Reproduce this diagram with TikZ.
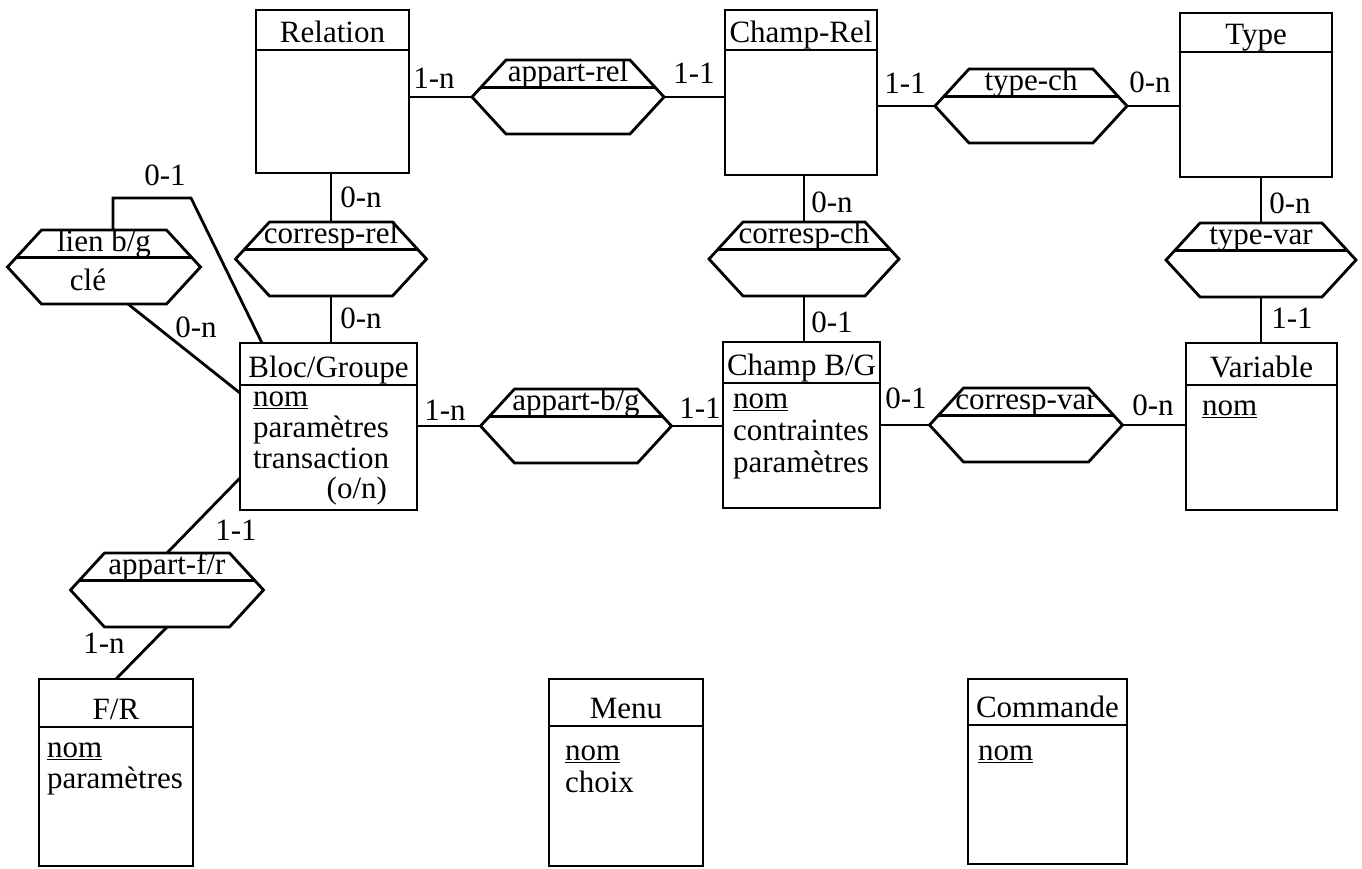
\documentclass[tikz,border=0pt]{standalone}
\usepackage{fontspec}
\setmainfont{Liberation Serif}
\usetikzlibrary{calc}
\tikzset{
  ent/.style={draw, line width=2.8pt, rectangle, inner sep=0pt, outer sep=0pt},
  hdrline/.style={line width=2.2pt},
  hexbox/.style={rectangle, inner sep=0pt, outer sep=0pt, minimum height=74pt},
  hexline/.style={line width=2.8pt, line join=miter},
  divline/.style={line width=2.4pt},
  link/.style={line width=2.8pt},
  txt/.style={inner sep=0pt, outer sep=0pt, font=\fontsize{31}{31}\selectfont},
  card/.style={txt, anchor=base},
  bodyl/.style={txt, anchor=base west},
}
\newcommand\entity[7]{%
  \node[ent, anchor=north west, minimum width={(#4-#2)*1pt}, minimum height={(#5-#3)*1pt}] (#1) at (#2,#3) {};
  \draw[hdrline] (#2,#6) -- (#4,#6);
  \node[txt, anchor=base] at ({(#2+#4)/2},{#6-8}) {#7};
}
\newcommand\hexa[5]{%
  \node[hexbox, minimum width={#4*1pt}] (#1) at (#2,#3) {};
  \draw[hexline] (#1.west) -- ([xshift=34pt]#1.north west) -- ([xshift=-34pt]#1.north east)
     -- (#1.east) -- ([xshift=-34pt]#1.south east) -- ([xshift=34pt]#1.south west) -- cycle;
  \draw[divline] ($([xshift=34pt]#1.north west)!0.74!(#1.west)$) -- ($([xshift=-34pt]#1.north east)!0.74!(#1.east)$);
  \node[txt, anchor=base] at ([yshift=-21pt]#1.north) {#5};
}
\begin{document}
\begin{tikzpicture}[x=1pt,y=-1pt]
\useasboundingbox (0,0) rectangle (1362,868);
\fill[white] (0,0) rectangle (1362,868);

% entities
\entity{rel}{256}{10}{409}{173}{50}{Relation}
\entity{chr}{725}{10}{877}{175}{50}{Champ-Rel}
\entity{typ}{1180}{13}{1332}{177}{52}{Type}
\entity{bg}{240}{343}{417}{510}{385}{Bloc/Groupe}
\entity{cbg}{723}{342}{880}{508}{383}{Champ B/G}
\entity{var}{1186}{343}{1337}{510}{385}{Variable}
\entity{fr}{39}{679}{193}{866}{727}{F/R}
\entity{menu}{549}{679}{703}{866}{726}{Menu}
\entity{cmd}{968}{679}{1127}{864}{725}{Commande}

% entity bodies
\node[bodyl] at (253,406) {\underline{nom}};
\node[bodyl] at (253,437) {paramètres};
\node[bodyl] at (253,468) {transaction};
\node[txt, anchor=base east] at (387,498) {(o/n)};
\node[bodyl] at (733,408) {\underline{nom}};
\node[bodyl] at (733,440) {contraintes};
\node[bodyl] at (733,472) {paramètres};
\node[bodyl] at (1202,415) {\underline{nom}};
\node[bodyl] at (47,757) {\underline{nom}};
\node[bodyl] at (47,788) {paramètres};
\node[bodyl] at (565,760) {\underline{nom}};
\node[bodyl] at (565,792) {choix};
\node[bodyl] at (978,760) {\underline{nom}};

% associations
\hexa{ar}{568}{97}{192}{appart-rel}
\hexa{tc}{1031}{106}{192}{type-ch}
\hexa{tv}{1261}{260}{190}{type-var}
\hexa{cv}{1026}{425}{193}{corresp-var}
\hexa{abg}{576}{426}{191}{appart-b/g}
\hexa{cc}{804}{259}{190}{corresp-ch}
\hexa{cr}{331}{259}{191}{corresp-rel}
\hexa{lien}{104}{267}{193}{lien b/g}
\node[txt, anchor=base] at (88,290) {clé};
\hexa{afr}{167}{590}{193}{appart-f/r}

% connectors
\draw[link] (ar.west -| rel.east) -- (ar.west);
\draw[link] (ar.east) -- (ar.east -| chr.west);
\draw[link] (tc.west -| chr.east) -- (tc.west);
\draw[link] (tc.east) -- (tc.east -| typ.west);
\draw[link] (tv.north |- typ.south) -- (tv.north);
\draw[link] (tv.south) -- (tv.south |- var.north);
\draw[link] (cr.north |- rel.south) -- (cr.north);
\draw[link] (cr.south) -- (cr.south |- bg.north);
\draw[link] (cc.north |- chr.south) -- (cc.north);
\draw[link] (cc.south) -- (cc.south |- cbg.north);
\draw[link] (abg.west -| bg.east) -- (abg.west);
\draw[link] (abg.east) -- (abg.east -| cbg.west);
\draw[link] (cv.west -| cbg.east) -- (cv.west);
\draw[link] (cv.east) -- (cv.east -| var.west);
\coordinate (l1) at (113,198);
\coordinate (l2) at (191,198);
\draw[link, line join=miter] (lien.north -| l1) -- (l1) -- (l2) -- ([xshift=22pt]bg.north west);
\draw[link] ([xshift=24pt]lien.south) -- ([yshift=-50pt]bg.north west);
\draw[link] ([yshift=-135pt]bg.north west) -- (afr.north);
\draw[link] (afr.south) -- (fr.north);

% cardinalities
\node[card] at (434,88) {1-n};
\node[card] at (694,83) {1-1};
\node[card] at (905,93) {1-1};
\node[card] at (1150,92) {0-n};
\node[card] at (1290,213) {0-n};
\node[card] at (1292,328) {1-1};
\node[card] at (361,207) {0-n};
\node[card] at (361,328) {0-n};
\node[card] at (832,212) {0-n};
\node[card] at (832,332) {0-1};
\node[card] at (165,185) {0-1};
\node[card] at (196,337) {0-n};
\node[card] at (445,420) {1-n};
\node[card] at (700,418) {1-1};
\node[card] at (906,408) {0-1};
\node[card] at (1153,415) {0-n};
\node[card] at (236,540) {1-1};
\node[card] at (104,653) {1-n};
\end{tikzpicture}
\end{document}
